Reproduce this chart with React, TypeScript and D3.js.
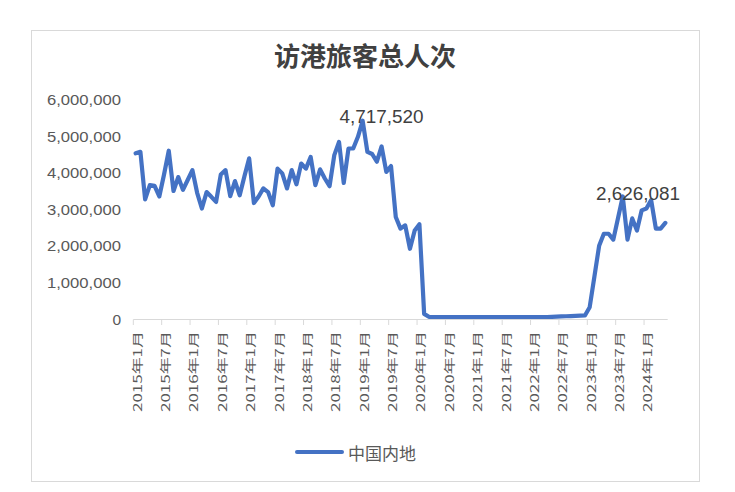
import React from 'react';
import * as d3 from 'd3';

// ---- data (visitors per month, mainland China) ----
const title = '访港旅客总人次';
const seriesName = '中国内地';
const startYear = 2015;
const v2015 = [4530000, 4570000, 3270000, 3660000, 3640000, 3350000, 3950000, 4600000, 3500000, 3880000, 3530000, 3800000];
const v2016 = [4070000, 3450000, 3020000, 3470000, 3340000, 3200000, 3950000, 4070000, 3360000, 3770000, 3380000, 3900000];
const v2017 = [4390000, 3170000, 3350000, 3570000, 3470000, 3110000, 4110000, 3980000, 3570000, 4070000, 3680000, 4250000];
const v2018 = [4110000, 4430000, 3660000, 4090000, 3840000, 3630000, 4480000, 4840000, 3720000, 4660000, 4660000, 4980000];
const v2019 = [5420000, 4570000, 4510000, 4300000, 4717520, 4020000, 4180000, 2790000, 2470000, 2560000, 1920000, 2420000];
const v2020 = [2590000, 140000, 60000, 55000, 55000, 55000, 55000, 55000, 55000, 55000, 55000, 55000];
const v2021 = [55000, 55000, 55000, 55000, 55000, 55000, 55000, 55000, 55000, 55000, 55000, 55000];
const v2022 = [55000, 55000, 55000, 55000, 60000, 65000, 70000, 75000, 80000, 85000, 90000, 95000];
const v2023 = [320000, 1160000, 2000000, 2330000, 2330000, 2170000, 2760000, 3350000, 2170000, 2750000, 2420000, 2970000];
const v2024 = [3020000, 3250000, 2470000, 2470000, 2626081];
const series = [...v2015, ...v2016, ...v2017, ...v2018, ...v2019, ...v2020, ...v2021, ...v2022, ...v2023, ...v2024];
const categories = series.map((_, i) => `${startYear + Math.floor(i / 12)}年${(i % 12) + 1}月`);
const yTicks = [0, 1000000, 2000000, 3000000, 4000000, 5000000, 6000000];
const labelledPoints = [52, 112];
const tickEvery = 6;

export default function App() {
  const W = 735, H = 492;
  const x = d3.scalePoint<string>().domain(categories).range([133.3, 667.7]).padding(0.5);
  const y = d3.scaleLinear().domain([0, 6000000]).range([319, 99.5]);
  const step = x.step();
  const line = d3.line<number>()
    .x((_, i) => x(categories[i]) as number)
    .y(d => y(d));
  const fmt = d3.format(',');
  const blue = '#4472C4';
  const grey = '#595959';
  const plotRight = 680;

  const tickIdx = d3.range(0, categories.length, tickEvery);

  return (
    <svg width={W} height={H} style={{ position: 'absolute', left: 0, top: 0, background: '#fff' }}>
      <rect x={0} y={0} width={W} height={H} fill="#fff" />
      <rect x={31.5} y={30.5} width={668} height={451} fill="#fff" stroke="#d9d9d9" strokeWidth={1} />
      <text x={365} y={54} textAnchor="middle" dominantBaseline="central"
        fontFamily="'Noto Sans CJK SC'" fontWeight="bold" fontSize={26} fill="#404040">{title}</text>

      {/* y axis labels */}
      {yTicks.map(t => (
        <text key={t} x={121} y={y(t)} textAnchor="end" dominantBaseline="central"
          fontFamily="'Liberation Sans', Arial" fontSize={15.5} fill={grey}
          textLength={t === 0 ? undefined : 74} lengthAdjust="spacingAndGlyphs">{fmt(t)}</text>
      ))}

      {/* x axis */}
      <line x1={x.range()[0]} x2={x.range()[1]} y1={319.5} y2={319.5} stroke="#d9d9d9" strokeWidth={1} />
      {tickIdx.map(i => {
        const xx = (x(categories[i]) as number) - step / 2;
        return <line key={'t' + i} x1={xx} x2={xx} y1={319.5} y2={325} stroke="#d9d9d9" strokeWidth={1} />;
      })}
      {tickIdx.map(i => {
        const xx = x(categories[i]) as number;
        return (
          <text key={'l' + i} transform={`translate(${xx + 1},331) rotate(-90)`} textAnchor="end"
            dominantBaseline="central" fontFamily="'Noto Sans CJK SC'" fontSize={11.5} fill={grey}
            textLength={81} lengthAdjust="spacingAndGlyphs">{categories[i]}</text>
        );
      })}

      {/* series line */}
      <path d={line(series) || ''} fill="none" stroke={blue} strokeWidth={4.2} strokeLinejoin="round" strokeLinecap="round" />

      {/* data labels */}
      {labelledPoints.map(i => {
        const px = x(categories[i]) as number;
        const half = 42;
        const overflow = px + half > plotRight;
        return (
          <text key={'d' + i} x={overflow ? plotRight : px} y={y(series[i]) - 29}
            textAnchor={overflow ? 'end' : 'middle'} dominantBaseline="central"
            fontFamily="'Liberation Sans', Arial" fontSize={17.5} fill="#404040"
            textLength={84} lengthAdjust="spacingAndGlyphs">{fmt(series[i])}</text>
        );
      })}

      {/* legend */}
      <line x1={297} x2={342} y1={452} y2={452} stroke={blue} strokeWidth={4} strokeLinecap="round" />
      <text x={348} y={452} dominantBaseline="central" fontFamily="'Noto Sans CJK SC'" fontSize={17} fill={grey}>{seriesName}</text>
    </svg>
  );
}
